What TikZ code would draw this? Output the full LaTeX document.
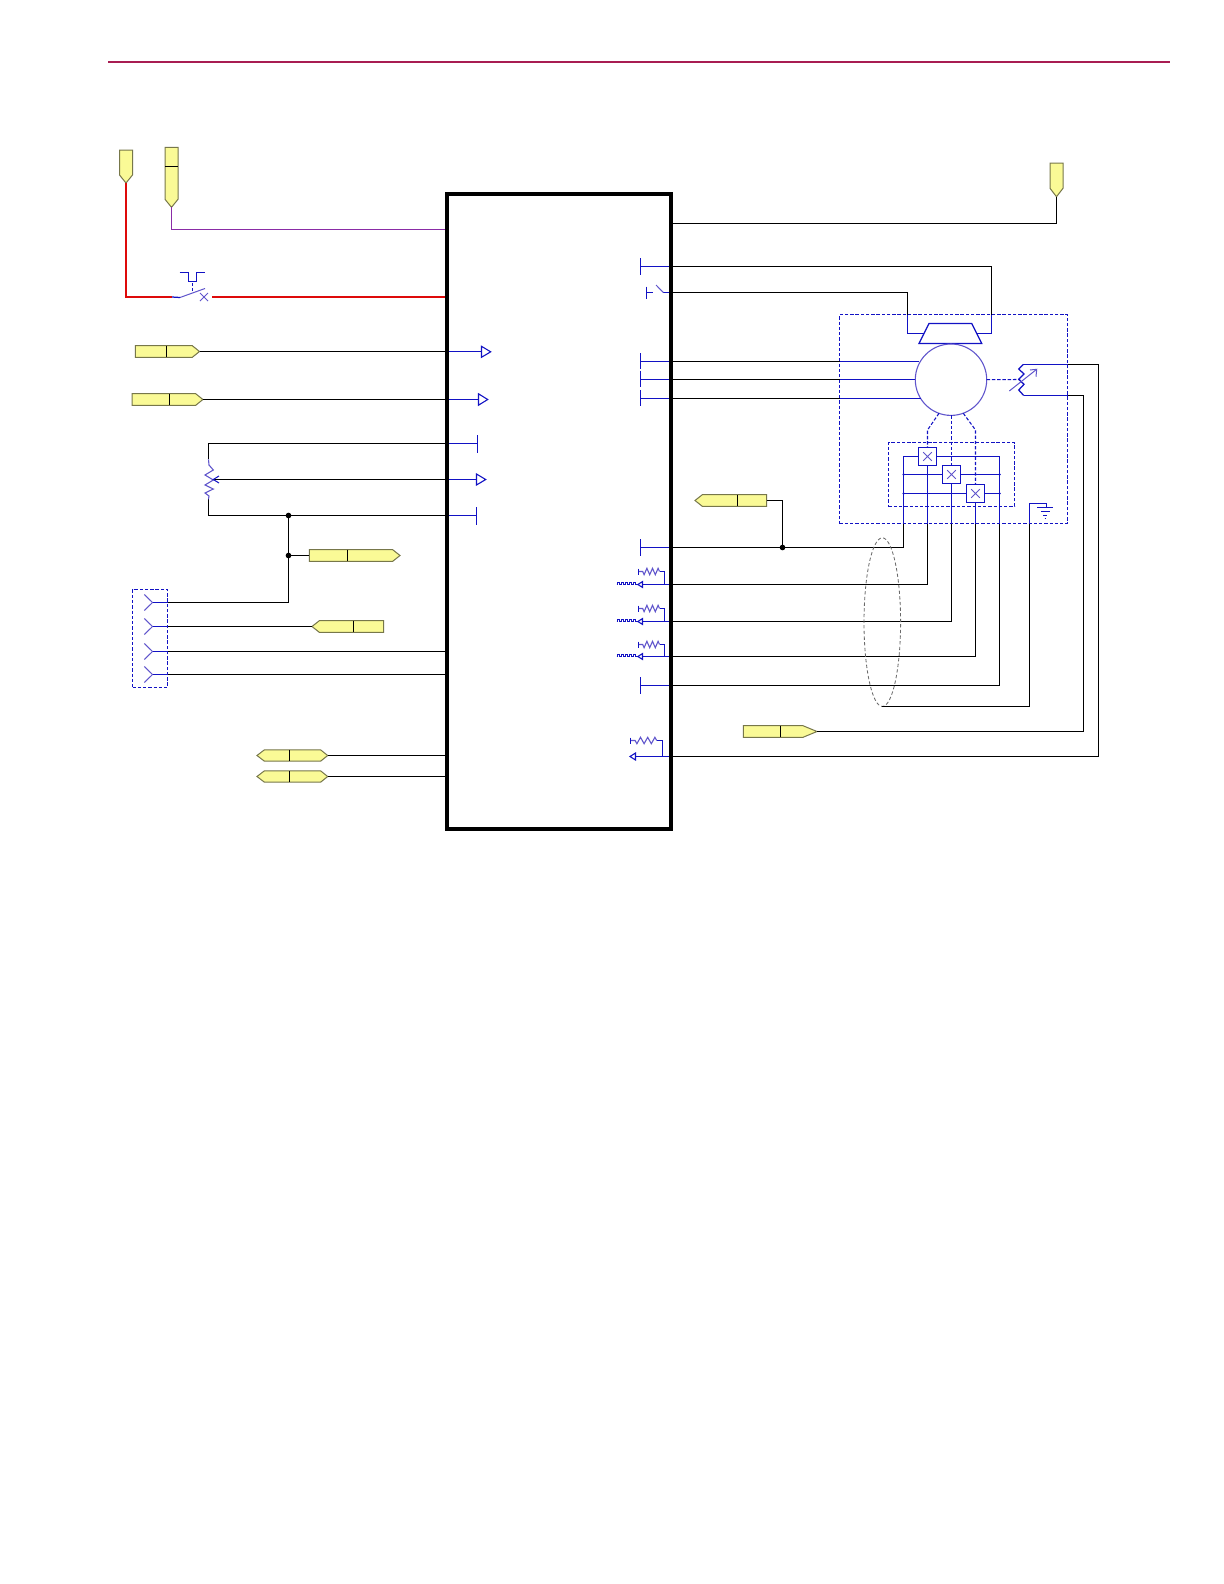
\documentclass[tikz,border=0pt]{standalone}
\usetikzlibrary{shapes.geometric}
\definecolor{rulec}{HTML}{A81D52}
\definecolor{bl}{HTML}{1212C4}
\definecolor{vio}{HTML}{6055CC}
\definecolor{redw}{HTML}{DE0A0A}
\definecolor{purw}{HTML}{8A2CA6}
\definecolor{tagf}{HTML}{FAFA96}
\definecolor{tagd}{HTML}{77774A}
\definecolor{grayd}{HTML}{6A6A6A}
\tikzset{
  wire/.style={draw=black,line width=0.75pt,line join=miter},
  bw/.style={draw=bl,line width=0.75pt},
  thinb/.style={draw=vio,line width=0.6pt},
  dbox/.style={draw=bl,line width=0.7pt,dash pattern=on 2pt off 1.15pt,inner sep=0pt,outer sep=0pt,rectangle},
  dsh/.style={draw=bl,line width=0.65pt,dash pattern=on 2pt off 1.15pt},
  tagshape/.style={draw=tagd,fill=tagf,line width=0.6pt},
  tagdiv/.style={draw=black,line width=0.7pt},
  hall/.style={draw=bl,fill=white,line width=0.75pt,rectangle,minimum size=11pt,inner sep=0pt,outer sep=0pt},
  dotn/.style={circle,fill=black,minimum size=3.4pt,inner sep=0pt,outer sep=0pt},
  bdot/.style={circle,fill=bl,minimum size=1.5pt,inner sep=0pt,outer sep=0pt},
  headb/.style={draw=bl,line width=0.65pt}
}
% name, x tail, x divider, x shoulder, x tip, y
\newcommand{\myhtag}[6]{%
  \path[tagshape] (#2,#6-5.8) -- (#4,#6-5.8) -- (#5,#6) -- (#4,#6+5.8) -- (#2,#6+5.8) -- cycle;
  \draw[tagdiv] (#3,#6-5.8) -- (#3,#6+5.8);
  \coordinate (#1) at (#5,#6);
  \coordinate (#1t) at (#2,#6);}
% two-ended tag: name, x left tip, x shoulder, x div, x shoulder, x right tip, y
\newcommand{\mydtag}[7]{%
  \path[tagshape] (#2,#7) -- (#3,#7-5.6) -- (#5,#7-5.6) -- (#6,#7) -- (#5,#7+5.6) -- (#3,#7+5.6) -- cycle;
  \draw[tagdiv] (#4,#7-5.6) -- (#4,#7+5.6);
  \coordinate (#1) at (#6,#7);}
% name, x left, x right, y top, y shoulder, y tip
\newcommand{\myvtag}[6]{%
  \path[tagshape] (#2,#4) -- (#3,#4) -- (#3,#5) -- ({(#2+#3)/2},#6) -- (#2,#5) -- cycle;
  \coordinate (#1) at ({(#2+#3)/2},#6);}
% Y-shaped contact with tip at x=152.5
\newcommand{\myfork}[1]{%
  \draw[thinb] (144.3,#1-8) -- (152.5,#1) -- (144.3,#1+8);
  \draw[bw] (152.5,#1) -- (167.5,#1);}
% horizontal resistor: right end x, left end x, y, step
\newcommand{\myhres}[4]{%
  \draw[thinb,line width=0.65pt] (#1,#3) -- ++(-#4/2,-3.2) -- ++(-#4,6.4) -- ++(-#4,-6.4) -- ++(-#4,6.4) -- ++(-#4,-6.4) -- ++(-#4,6.4) -- ++(-#4/2,-3.2) -- (#2,#3);}
% encoder input group: y line, y branch
\newcommand{\mypulse}[2]{%
  \draw[bw] (671,#1) -- (642.5,#1);
  \draw[headb] (642.5,#1-2.9) -- (637.8,#1) -- (642.5,#1+2.9) -- cycle;
  \draw[bw,line width=0.6pt] (616.7,#1) -- ++(1,0) -- ++(0,-2.5) -- ++(2,0) -- ++(0,2.5) -- ++(2,0) -- ++(0,-2.5) -- ++(2,0) -- ++(0,2.5) -- ++(2,0) -- ++(0,-2.5) -- ++(2,0) -- ++(0,2.5) -- ++(2,0) -- ++(0,-2.5) -- ++(2,0) -- ++(0,2.5) -- ++(2,0) -- ++(0,-2.5) -- ++(2,0) -- ++(0,2.5) -- (637.8,#1);
  \draw[bw] (664.5,#1) -- (664.5,#2) -- (659.5,#2);
  \myhres{659.5}{638.5}{#2}{2.8}
  \draw[bw,line width=0.6pt] (638.5,#2-3) -- (638.5,#2+3);}
\begin{document}
\begin{tikzpicture}[x=0.6pt,y=-0.6pt]
\useasboundingbox (0,0) rectangle (1224,1584);
\fill[white] (0,0) rectangle (1224,1584);

% header rule
\coordinate (ruleL) at (108,62);
\coordinate (ruleR) at (1170,62);
\draw[rulec,line width=1.3pt] (ruleL) -- (ruleR);

% motor enclosure and hall enclosure
\node[dbox,minimum width=136.8pt,minimum height=125.4pt] (motorbox) at (953.5,419) {};
\node[dbox,minimum width=75.6pt,minimum height=38.4pt] (hallbox) at (951.5,474.5) {};
\node[dbox,minimum width=21pt,minimum height=58.8pt] (conn) at (150,638.5) {};

% named ports
\coordinate (pwr) at (0,229.5);
\coordinate (sw) at (0,297);
\coordinate (ia) at (0,351.5);
\coordinate (ib) at (0,399.5);
\coordinate (pa) at (0,443.5);
\coordinate (pb) at (0,479.5);
\coordinate (pc) at (0,515.5);
\coordinate (f1) at (0,602.5);
\coordinate (f2) at (0,626.5);
\coordinate (f3) at (0,651.5);
\coordinate (f4) at (0,674.5);
\coordinate (d1) at (0,755.5);
\coordinate (d2) at (0,776.5);
\coordinate (rt) at (0,223.5);
\coordinate (r1) at (0,266.5);
\coordinate (r2) at (0,292.5);
\coordinate (u) at (0,361.5);
\coordinate (v) at (0,379.5);
\coordinate (w) at (0,398.5);
\coordinate (q0) at (0,547.5);
\coordinate (q1) at (0,584.5);
\coordinate (q2) at (0,621.5);
\coordinate (q3) at (0,656.5);
\coordinate (q4) at (0,685.5);
\coordinate (q5) at (0,756.5);
\coordinate (xa) at (907.5,0);
\coordinate (xb) at (991.5,0);
\coordinate (xl) at (903.5,0);
\coordinate (xs1) at (927.5,0);
\coordinate (xs2) at (951.5,0);
\coordinate (xs3) at (975.5,0);
\coordinate (xr) at (999.5,0);
\coordinate (xg) at (1029.5,0);
\coordinate (xt) at (1083.5,0);
\coordinate (xh) at (1098.5,0);

% main block (outline drawn late so it covers wire ends)
\node[draw=none,rectangle,minimum width=134.4pt,minimum height=380.8pt,inner sep=0pt,outer sep=0pt] (box) at (559,511.65) {};

% left tags
\myvtag{tagA}{119.5}{132.5}{150}{175}{183}
\myvtag{tagB}{165}{178}{147.3}{199.3}{207.3}
\draw[tagdiv] (165,166.5) -- (178,166.5);
\myhtag{tagC}{135.3}{166.5}{192.3}{199.5}{351.5}
\myhtag{tagD}{132}{169.5}{195.7}{202.9}{399.5}
\myhtag{tagE}{309.3}{347.5}{392.7}{400}{555.5}
\myhtag{tagF}{383.7}{353.5}{319.3}{312}{626.5}
\mydtag{tagG}{257}{264.3}{289.5}{320.7}{327.7}{755.5}
\mydtag{tagH}{257}{264.3}{289.5}{320.7}{327.7}{776.5}
\myvtag{tagI}{1050}{1063}{163}{188.3}{196.7}
\myhtag{tagJ}{766.7}{737.5}{702.3}{695}{500.5}
\myhtag{tagK}{743.3}{780.5}{803}{817}{731.5}

% supply wires
\draw[purw,line width=0.8pt] (tagB) |- (pwr -| box.west);
\coordinate (swL) at (172,297);
\coordinate (swR) at (212,297);
\draw[redw,line width=1.25pt] (tagA) |- (swL);
\draw[redw,line width=1.25pt] (swR) -- (sw -| box.west);
\draw[bw] (swL) -- (180,297.5);
\draw[thinb] (180,297.5) -- (205,288.5);
\draw[thinb] (200,293) -- (208,301) (200,301) -- (208,293);
\draw[bw,dash pattern=on 2pt off 1pt] (192.5,291) -- (192.5,282);
\draw[bw] (179.5,272.5) -- (188.5,272.5) -- (188.5,281.5) -- (196.5,281.5) -- (196.5,272.5) -- (204.5,272.5);

% left input wires
\draw[wire] (tagC) -- (ia -| box.west);
\draw[wire] (tagD) -- (ib -| box.west);
\draw[bw] (ia -| box.west) -- (481.5,351.5);
\draw[headb] (481.5,346.3) -- (481.5,357.3) -- (490.7,351.8) -- cycle;
\draw[bw] (ib -| box.west) -- (478.5,399.5);
\draw[headb] (478.5,393.8) -- (478.5,405.2) -- (487.7,399.5) -- cycle;

% potentiometer
\coordinate (potT) at (208.5,459.3);
\coordinate (potB) at (208.5,499.3);
\draw[wire] (potT) |- (pa -| box.west);
\draw[wire] (potB) |- (pc -| box.west);
\draw[thinb,line width=0.65pt] (potT) -- (209,465) -- (213.3,470) -- (205,475) -- (213.3,480) -- (205,485) -- (213.3,489) -- (205,493) -- (209,496) -- (potB);
\coordinate (wiper) at (213.3,479.5);
\draw[wire] (wiper) -- (pb -| box.west);
\draw[bw,line width=0.6pt] (219,476) -- (wiper) -- (219,483);
\draw[bw] (pa -| box.west) -- (477.5,443.5);
\draw[bw] (477.5,435) -- (477.5,453);
\draw[bw] (pb -| box.west) -- (476.5,479.5);
\draw[headb] (476.5,474) -- (476.5,485) -- (485.7,479.5) -- cycle;
\draw[bw] (pc -| box.west) -- (476.5,515.5);
\draw[bw] (476.5,507.3) -- (476.5,525.3);

% connector wires
\node[dotn] (j1) at (288.5,515.5) {};
\node[dotn] (j2) at (288.5,555.5) {};
\draw[wire] (j1) |- (f1 -| conn.east);
\draw[wire] (j2) -- (tagEt);
\draw[wire] (f2 -| conn.east) -- (tagF);
\draw[wire] (f3 -| conn.east) -- (f3 -| box.west);
\draw[wire] (f4 -| conn.east) -- (f4 -| box.west);
\myfork{602.5}
\myfork{626.5}
\myfork{651.5}
\myfork{674.5}

% bottom-left tags to block
\draw[wire] (tagG) -- (d1 -| box.west);
\draw[wire] (tagH) -- (d2 -| box.west);

% right side: top wires
\draw[wire] (box.east |- rt) -| (tagI);
\coordinate (brk) at (xb |- motorbox.north);
\coordinate (brk2) at (xa |- motorbox.north);
\draw[wire] (r1 -| box.east) -| (brk);
\draw[wire] (r2 -| box.east) -| (brk2);
\draw[bw] (r1 -| box.east) -- (640.5,266.5);
\draw[bw] (640.5,258) -- (640.5,274.5);
\draw[bw] (r2 -| box.east) -- (663.3,292.5);
\draw[thinb] (663.3,292.5) -- (656,285);
\draw[bw] (646.5,292.5) -- (653,292.5) (646.5,286.7) -- (646.5,298.7);

% brake trapezoid
\draw[bw] (929,323.5) -- (971.7,323.5) -- (981.7,343.5) -- (919,343.5) -- cycle;
\draw[bw] (brk2) -- (xa |- 0,333.5) -- (924,333.5);
\draw[bw] (brk) -- (xb |- 0,333.5) -- (976.7,333.5);

% motor
\node[draw=vio,line width=0.65pt,circle,minimum size=42.84pt,inner sep=0pt,outer sep=0pt] (motor) at (951,379.7) {};
\foreach \p/\xe in {u/919,v/915.3,w/920.7}{
  \draw[wire] (\p -| box.east) -- (\p -| motorbox.west);
  \draw[bw] (\p -| motorbox.west) -- (\xe,0 |- \p);
  \draw[bw] (\p -| box.east) -- (640.5,0 |- \p);
}
\draw[bw] (640.5,353.3) -- (640.5,369.3);
\draw[bw] (640.5,370.7) -- (640.5,387.3);
\draw[bw] (640.5,390) -- (640.5,406);

% hall sensors
\node[hall] (S1) at (927.5,456.5) {};
\node[hall] (S2) at (951.5,474.5) {};
\node[hall] (S3) at (975.5,493.5) {};
\foreach \s/\cx/\cy in {S1/927.5/456.5,S2/951.5/474.5,S3/975.5/493.5}{
  \draw[thinb] (\cx-4.3,\cy-4.3) -- (\cx+4.3,\cy+4.3) (\cx-4.3,\cy+4.3) -- (\cx+4.3,\cy-4.3);
}
\draw[dsh] (939,413.3) -- (927.5,430) -- (S1.north);
\draw[dsh] (951.5,415.3) -- (S2.north);
\draw[dsh] (963.3,413.3) -- (975.5,430) -- (S3.north);
\coordinate (busLt) at (903.5,456.5);
\coordinate (busRt) at (999.5,456.5);
\draw[bw] (S1.west) -- (busLt) -- (xl |- motorbox.south);
\draw[bw] (S1.east) -- (busRt) -- (xr |- motorbox.south);
\draw[bw] (S2.west) -- (903.5,474.5) (S2.east) -- (999.5,474.5);
\draw[bw] (S3.west) -- (903.5,493.5) (S3.east) -- (999.5,493.5);
\draw[bw] (S1.south) -- (xs1 |- motorbox.south);
\draw[bw] (S2.south) -- (xs2 |- motorbox.south);
\draw[bw] (S3.south) -- (xs3 |- motorbox.south);
\foreach \dx/\dy in {903.5/474.5,999.5/474.5,903.5/493.5,999.5/493.5}{\node[bdot] at (\dx,\dy) {};}

% encoder wires
\draw[wire] (q0 -| box.east) -| (xl |- motorbox.south);
\draw[wire] (q1 -| box.east) -| (xs1 |- motorbox.south);
\draw[wire] (q2 -| box.east) -| (xs2 |- motorbox.south);
\draw[wire] (q3 -| box.east) -| (xs3 |- motorbox.south);
\draw[wire] (q4 -| box.east) -| (xr |- motorbox.south);
\node[dotn] (j3) at (782.5,547.5) {};
\draw[wire] (tagJt) -| (j3);

% shield ellipse
\node[ellipse,draw=grayd,line width=0.5pt,dash pattern=on 2pt off 1.4pt,minimum width=21.96pt,minimum height=101.2pt,inner sep=0pt,outer sep=0pt] (shield) at (882.3,622.15) {};
\draw[wire] (shield.south) -| (xg |- motorbox.south);
\draw[bw] (xg |- motorbox.south) -- (1029.5,503.5) -- (1046.5,503.5) -- (1046.5,507.5);
\draw[bw] (1037.3,507.5) -- (1053.3,507.5);
\draw[bw] (1041.3,511.5) -- (1050,511.5);
\draw[bw] (1043.3,515.5) -- (1047.3,515.5);
\draw[bw,line width=0.5pt] (1044.7,518.5) -- (1046,518.5);

% resolver / sensor with tuning
\draw[dsh] (motor.east) -- (1020,379.5);
\coordinate (rhT) at (1023.3,364.5);
\coordinate (rhB) at (1023.7,395.5);
\draw[bw] (rhT) -- (1018.7,369) -- (1024,374) -- (1018.7,379.3) -- (1024,384.3) -- (1018.7,390) -- (rhB);
\draw[bw] (rhT) -- (motorbox.east |- rhT);
\draw[bw] (rhB) -- (motorbox.east |- rhB);
\draw[thinb] (1009.3,391) -- (1036.7,369.3);
\draw[thinb] (1030,370) -- (1036.7,369.3) -- (1036,376.7);
\draw[wire] (motorbox.east |- rhT) -| (xh |- q5) -- (q5 -| box.east);
\draw[wire] (motorbox.east |- rhB) -| (xt |- tagK) -- (tagK);

% inputs on the right edge
\draw[bw] (q0 -| box.east) -- (640.5,547.5);
\draw[bw] (640.5,539.3) -- (640.5,556);
\mypulse{584.5}{571.5}
\mypulse{621.5}{608.5}
\mypulse{656.5}{644.5}
\draw[bw] (q4 -| box.east) -- (640.5,685.5);
\draw[bw] (640.5,677) -- (640.5,693.7);
\draw[bw] (q5 -| box.east) -- (635.5,756.5);
\draw[headb] (635.5,753) -- (630,756.5) -- (635.5,760) -- cycle;
\draw[bw] (662.5,756.5) -- (662.5,740.5) -- (656.7,740.5);
\myhres{656.7}{630.5}{740.5}{3.6}
\draw[bw,line width=0.6pt] (630.5,737.5) -- (630.5,743.5);

% main block outline
\node[draw=black,line width=2.4pt,rectangle,minimum width=134.4pt,minimum height=380.8pt,inner sep=0pt,outer sep=0pt,line join=miter] at (box.center) {};
\end{tikzpicture}
\end{document}
